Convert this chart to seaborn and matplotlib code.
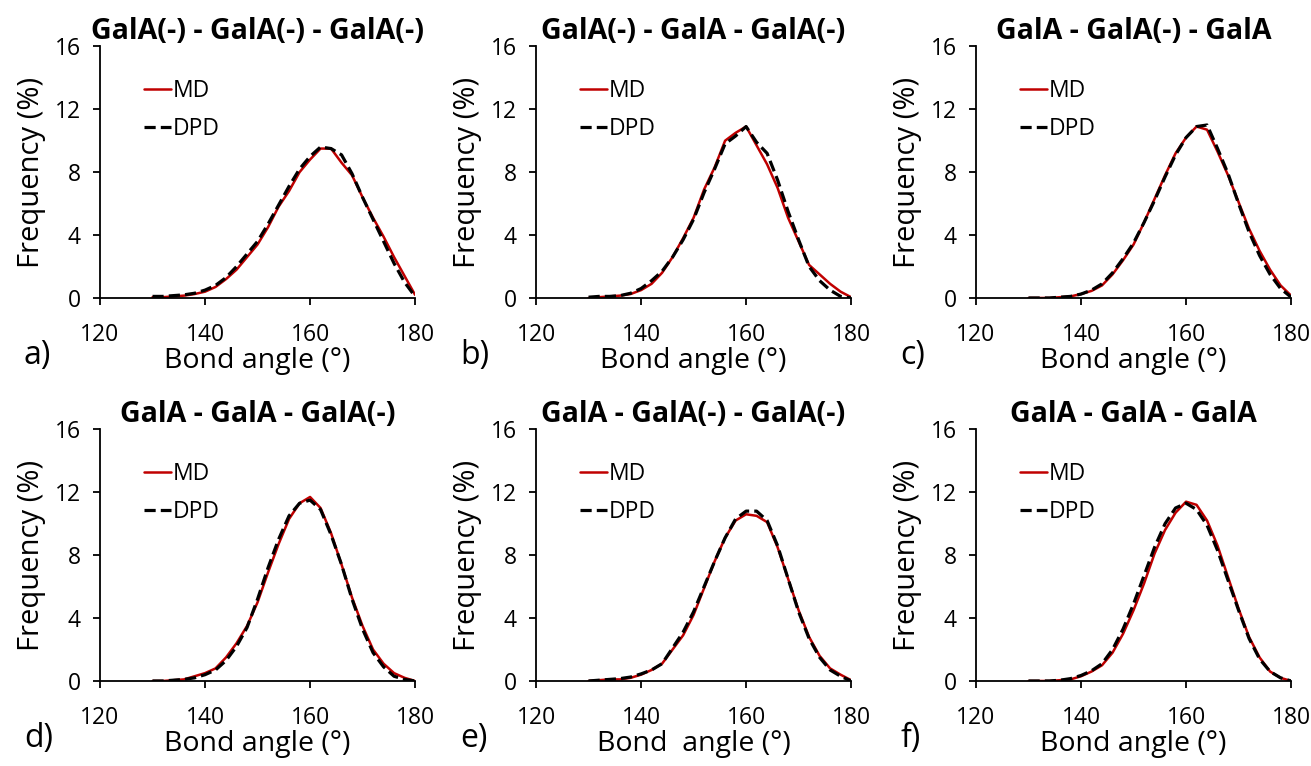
import pandas as pd
import matplotlib.pyplot as plt
import seaborn as sns

# bond angle grid (deg)
angles = [130, 132, 134, 136, 138, 140, 142, 144, 146, 148, 150, 152, 154,
          156, 158, 160, 162, 164, 166, 168, 170, 172, 174, 176, 178, 180]

titles = ['GalA(-) - GalA(-) - GalA(-)', 'GalA(-) - GalA - GalA(-)', 'GalA - GalA(-) - GalA',
          'GalA - GalA - GalA(-)', 'GalA - GalA(-) - GalA(-)', 'GalA - GalA - GalA']
letters = ['a)', 'b)', 'c)', 'd)', 'e)', 'f)']
xlabels = ['Bond angle (°)'] * 4 + ['Bond  angle (°)', 'Bond angle (°)']

# frequency (%)
md_a = [0.05, 0.05, 0.1, 0.15, 0.25, 0.4, 0.7, 1.2, 1.8, 2.6, 3.4, 4.5, 5.8,
        6.8, 8.0, 8.8, 9.5, 9.5, 8.6, 7.8, 6.4, 5.1, 3.9, 2.6, 1.4, 0.2]
dpd_a = [0.1, 0.1, 0.15, 0.2, 0.3, 0.5, 0.8, 1.3, 2.0, 2.8, 3.6, 4.7, 5.9,
         7.1, 8.2, 9.0, 9.6, 9.5, 9.1, 7.9, 6.4, 5.0, 3.6, 2.2, 1.0, 0.1]
md_b = [0.0, 0.05, 0.1, 0.15, 0.25, 0.5, 0.9, 1.6, 2.6, 3.8, 5.1, 6.9, 8.3,
        10.0, 10.5, 10.9, 9.7, 8.5, 7.0, 5.1, 3.6, 2.1, 1.5, 0.9, 0.4, 0.05]
dpd_b = [0.05, 0.1, 0.1, 0.15, 0.3, 0.6, 1.1, 1.7, 2.6, 3.7, 5.0, 6.7, 8.2,
         9.8, 10.3, 10.9, 9.9, 9.2, 7.5, 5.5, 3.7, 2.0, 1.1, 0.5, 0.1, 0.0]
md_c = [0.0, 0.0, 0.0, 0.05, 0.1, 0.25, 0.45, 0.8, 1.5, 2.4, 3.4, 4.8, 6.3,
        7.8, 9.2, 10.2, 10.9, 10.7, 9.3, 7.8, 6.1, 4.4, 3.0, 1.8, 0.8, 0.15]
dpd_c = [0.0, 0.0, 0.0, 0.05, 0.1, 0.25, 0.5, 0.9, 1.6, 2.5, 3.5, 4.8, 6.2,
         7.7, 9.1, 10.2, 10.9, 11.0, 9.5, 7.9, 6.0, 4.2, 2.7, 1.5, 0.6, 0.05]
md_d = [0.0, 0.0, 0.05, 0.1, 0.3, 0.5, 0.8, 1.5, 2.4, 3.5, 5.0, 6.9, 8.7,
        10.3, 11.3, 11.7, 11.0, 9.4, 7.4, 5.3, 3.5, 2.0, 1.1, 0.5, 0.2, 0.0]
dpd_d = [0.0, 0.0, 0.05, 0.1, 0.2, 0.4, 0.7, 1.3, 2.2, 3.4, 5.2, 7.2, 9.0,
         10.5, 11.3, 11.5, 10.9, 9.3, 7.4, 5.2, 3.3, 1.8, 0.9, 0.3, 0.1, 0.0]
md_e = [0.0, 0.05, 0.1, 0.1, 0.2, 0.4, 0.7, 1.1, 2.0, 2.9, 4.2, 5.9, 7.6,
        9.1, 10.2, 10.6, 10.5, 10.1, 8.5, 6.5, 4.5, 2.8, 1.6, 0.8, 0.4, 0.05]
dpd_e = [0.0, 0.05, 0.1, 0.15, 0.25, 0.45, 0.7, 1.1, 2.1, 3.1, 4.4, 6.0, 7.6,
         9.1, 10.3, 10.8, 10.8, 10.2, 8.6, 6.5, 4.4, 2.7, 1.5, 0.7, 0.3, 0.0]
md_f = [0.0, 0.0, 0.0, 0.05, 0.1, 0.3, 0.6, 1.0, 1.8, 3.0, 4.5, 6.2, 8.1,
        9.6, 10.7, 11.4, 11.2, 10.2, 8.6, 6.6, 4.6, 2.8, 1.5, 0.6, 0.2, 0.0]
dpd_f = [0.0, 0.0, 0.0, 0.05, 0.15, 0.35, 0.65, 1.1, 2.0, 3.3, 4.9, 6.7, 8.5,
         10.0, 11.0, 11.3, 10.9, 9.9, 8.3, 6.4, 4.5, 2.7, 1.4, 0.6, 0.2, 0.0]

md_all = [md_a, md_b, md_c, md_d, md_e, md_f]
dpd_all = [dpd_a, dpd_b, dpd_c, dpd_d, dpd_e, dpd_f]

sns.set_style("ticks")
plt.rcParams['font.family'] = ['Open Sans', 'DejaVu Sans']
plt.rcParams.update({'text.color': 'black', 'axes.labelcolor': 'black',
                     'xtick.color': 'black', 'ytick.color': 'black'})

fig = plt.figure(figsize=(13.11, 7.66), dpi=100)

lefts = [0.0763, 0.4089, 0.7445]
bottoms = [0.611, 0.111]
w, h = 0.2403, 0.3285

for i in range(6):
    row, col = divmod(i, 3)
    ax = fig.add_axes([lefts[col], bottoms[row], w, h])
    df = pd.DataFrame({'angle': angles, 'MD': md_all[i], 'DPD': dpd_all[i]})
    sns.lineplot(data=df, x='angle', y='MD', ax=ax, color='#C00000',
                 linewidth=1.8, label='MD')
    sns.lineplot(data=df, x='angle', y='DPD', ax=ax, color='black',
                 linewidth=2.3, linestyle=(0, (3.5, 1.6)), label='DPD')

    ax.set_xlim(120, 180)
    ax.set_ylim(0, 16)
    ax.set_xticks([120, 140, 160, 180])
    ax.set_yticks([0, 4, 8, 12, 16])
    ax.tick_params(labelsize=16.5, width=1.3, length=5, color='black')
    ax.tick_params(axis='x', pad=13)
    ax.tick_params(axis='y', pad=9)
    for s in ['top', 'right']:
        ax.spines[s].set_visible(False)
    for s in ['left', 'bottom']:
        ax.spines[s].set_linewidth(1.3)
        ax.spines[s].set_color('black')

    ax.set_xlabel(xlabels[i], fontsize=20.5, labelpad=0)
    ax.set_ylabel('Frequency (%)', fontsize=21, labelpad=6)
    ax.set_title(titles[i], fontsize=20.5, fontweight='bold', pad=4)

    ax.legend(loc='upper left', bbox_to_anchor=(0.11, 0.905), frameon=False,
              fontsize=16.5, handlelength=1.2, handletextpad=0.05,
              labelspacing=0.6, borderaxespad=0)

    fig.text(lefts[col] - 0.058, bottoms[row] - 0.075, letters[i],
             fontsize=23, ha='left', va='center')

plt.savefig('out.png', dpi=100)
